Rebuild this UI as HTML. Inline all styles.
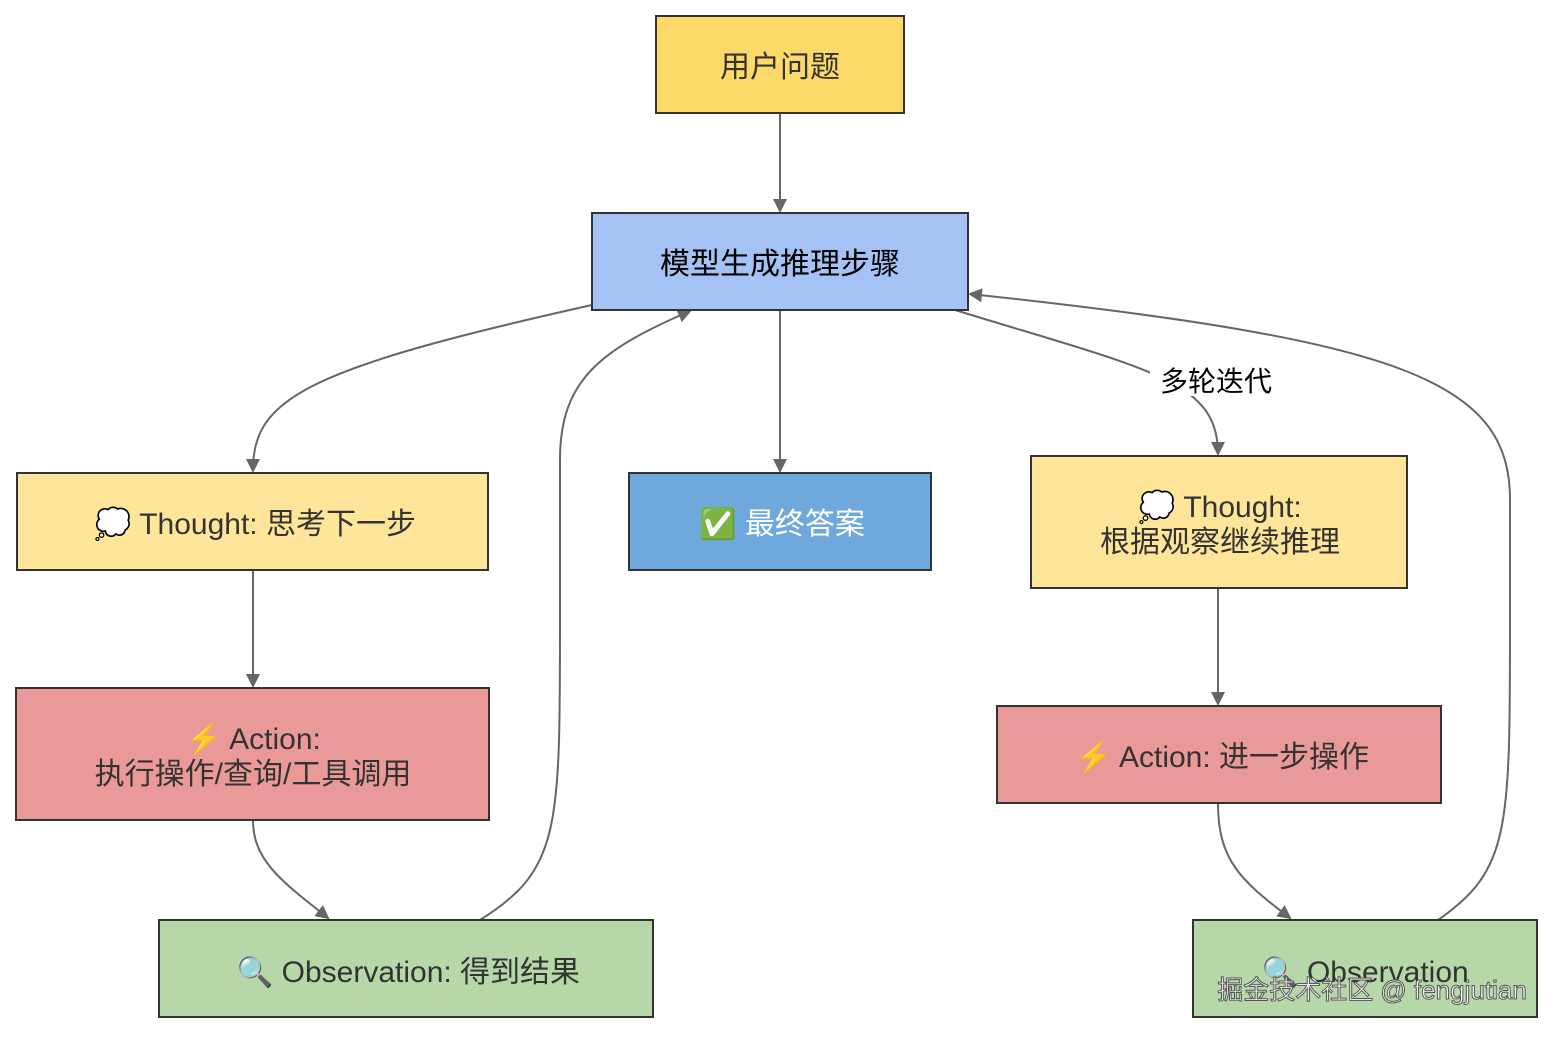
<!DOCTYPE html>
<html><head><meta charset="utf-8"><style>
body{margin:0;background:#fff;}
svg text{font-family:"Liberation Sans","Noto Sans CJK SC",sans-serif;fill:#333;}
</style></head><body>
<svg width="1554" height="1034" viewBox="0 0 1554 1034" xmlns="http://www.w3.org/2000/svg">
<defs><marker id="a" markerWidth="10" markerHeight="10" refX="9" refY="5" orient="auto" markerUnits="userSpaceOnUse" viewBox="0 0 10 10"><path d="M0,0 L10,5 L0,10 z" fill="#666"/></marker>
<marker id="b" markerWidth="14" markerHeight="14" refX="12" refY="7" orient="auto" markerUnits="userSpaceOnUse" viewBox="0 0 14 14"><path d="M0,0 L14,7 L0,14 z" fill="#666"/></marker></defs>
<g fill="none" stroke="#666" stroke-width="2">
<path d="M780,113 L780,211" marker-end="url(#b)"/>
<path d="M592,305 C300,370 253,400 253,471" marker-end="url(#b)"/>
<path d="M480,920 C560,870 560,830 560,620 L560,460 C560,380 600,350 690,311" marker-end="url(#b)"/>
<path d="M780,310 L780,471" marker-end="url(#b)"/>
<path d="M955,310 C1150,370 1218,380 1218,454" marker-end="url(#b)"/>
<path d="M1438,920 C1510,870 1510,830 1510,620 L1510,500 C1510,380 1400,340 970,294" marker-end="url(#b)"/>
<path d="M253,570 L253,686" marker-end="url(#b)"/>
<path d="M253,820 C253,860 280,880 328,918" marker-end="url(#b)"/>
<path d="M1218,588 L1218,704" marker-end="url(#b)"/>
<path d="M1218,803 C1218,860 1240,880 1290,918" marker-end="url(#b)"/>
</g>
<rect x="1150" y="362" width="132" height="34" fill="#fff"/>
<text x="1216" y="391" font-size="28" text-anchor="middle" style="fill:#000">多轮迭代</text>
<g stroke="#333" stroke-width="2">
<rect x="656" y="16" width="248" height="97" fill="#fdd96a"/>
<rect x="592" y="213" width="376" height="97" fill="#a4c2f4"/>
<rect x="17" y="473" width="471" height="97" fill="#ffe599"/>
<rect x="629" y="473" width="302" height="97" fill="#6fa8dc"/>
<rect x="1031" y="456" width="376" height="132" fill="#ffe599"/>
<rect x="16" y="688" width="473" height="132" fill="#ea9999"/>
<rect x="997" y="706" width="444" height="97" fill="#ea9999"/>
<rect x="159" y="920" width="494" height="97" fill="#b6d7a8"/>
<rect x="1193" y="920" width="344" height="97" fill="#b6d7a8"/>
</g>
<g font-size="30" text-anchor="middle">
<text x="780" y="77">用户问题</text>
<text x="780" y="274" style="fill:#000">模型生成推理步骤</text>
<text x="255" y="534">💭 Thought: 思考下一步</text>
<text x="782" y="534" style="fill:#fff">✅ 最终答案</text>
<text x="1220" y="517">💭 Thought:</text>
<text x="1220" y="552">根据观察继续推理</text>
<text x="253" y="749">⚡ Action:</text>
<text x="253" y="784">执行操作/查询/工具调用</text>
<text x="1222" y="767">⚡ Action: 进一步操作</text>
<text x="408" y="982">🔍 Observation: 得到结果</text>
<text x="1365" y="982">🔍 Observation</text>
</g>
<text x="1372" y="999" font-size="26" text-anchor="middle" style="fill:#fff;stroke:#555;stroke-width:1">掘金技术社区 @ fengjutian</text>
</svg>
</body></html>
